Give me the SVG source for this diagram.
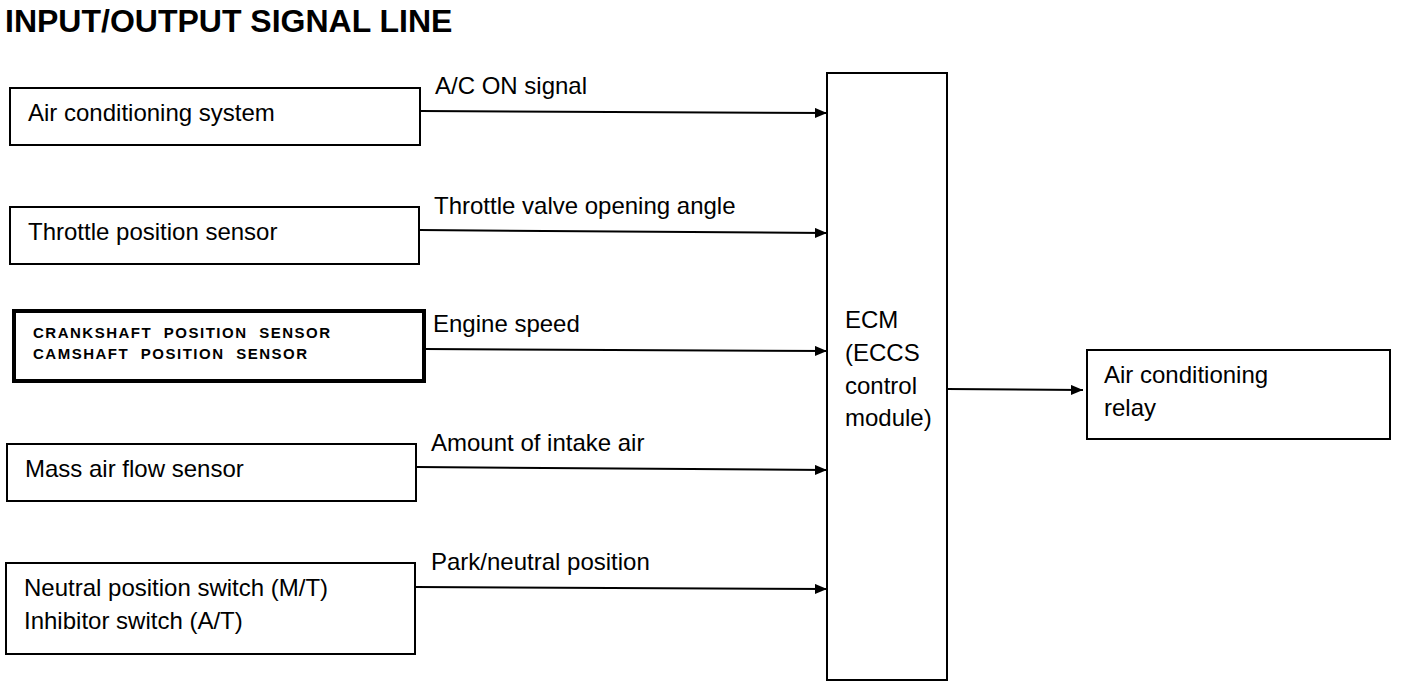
<svg xmlns="http://www.w3.org/2000/svg" width="1408" height="686" viewBox="0 0 1408 686">
<defs>
<marker id="ah" viewBox="0 0 12 10" refX="12" refY="5" markerWidth="12" markerHeight="10" markerUnits="userSpaceOnUse" orient="auto">
<path d="M0,0 L12,5 L0,10 Z" fill="#000"/>
</marker>
<style>
.box{fill:#fff;stroke:#000;stroke-width:2}
.thick{fill:#fff;stroke:#000;stroke-width:4}
.t{font-family:"Liberation Sans",Arial,sans-serif;font-size:24px;fill:#000}
.s{font-family:"Liberation Sans",Arial,sans-serif;font-size:15px;font-weight:bold;fill:#000;letter-spacing:1.5px;word-spacing:6px}
.c{stroke:#000;stroke-width:2;fill:none;marker-end:url(#ah)}
</style>
</defs>
<rect width="1408" height="686" fill="#fff"/>
<text x="5" y="32" font-family="'Liberation Sans',Arial,sans-serif" font-weight="bold" font-size="32">INPUT/OUTPUT SIGNAL LINE</text>

<g id="n-ac">
<rect class="box" x="10" y="88" width="410" height="57"/>
<text class="t" x="28" y="121">Air conditioning system</text>
</g>
<g id="n-tps">
<rect class="box" x="10" y="207" width="409" height="57"/>
<text class="t" x="28" y="240">Throttle position sensor</text>
</g>
<g id="n-crank">
<rect class="thick" x="14" y="311" width="410" height="70"/>
<text class="s" x="33" y="338">CRANKSHAFT POSITION SENSOR</text>
<text class="s" x="33" y="359">CAMSHAFT POSITION SENSOR</text>
</g>
<g id="n-maf">
<rect class="box" x="7" y="444" width="409" height="57"/>
<text class="t" x="25" y="477">Mass air flow sensor</text>
</g>
<g id="n-nps">
<rect class="box" x="6" y="563" width="409" height="91"/>
<text class="t" x="24" y="596">Neutral position switch (M/T)</text>
<text class="t" x="24" y="629">Inhibitor switch (A/T)</text>
</g>
<g id="n-ecm">
<rect class="box" x="827" y="73" width="120" height="607"/>
<text class="t" x="845" y="328">ECM</text>
<text class="t" x="845" y="361">(ECCS</text>
<text class="t" x="845" y="394">control</text>
<text class="t" x="845" y="426">module)</text>
</g>
<g id="n-relay">
<rect class="box" x="1087" y="350" width="303" height="89"/>
<text class="t" x="1104" y="383">Air conditioning</text>
<text class="t" x="1104" y="416">relay</text>
</g>

<g id="connectors">
<line class="c" x1="420" y1="111" x2="827" y2="113"/>
<line class="c" x1="419" y1="230" x2="827" y2="233"/>
<line class="c" x1="424" y1="349" x2="827" y2="351"/>
<line class="c" x1="416" y1="467" x2="827" y2="470"/>
<line class="c" x1="415" y1="587" x2="827" y2="589"/>
<line class="c" x1="947" y1="389" x2="1083" y2="390"/>
<text class="t" x="435" y="94">A/C ON signal</text>
<text class="t" x="434" y="214">Throttle valve opening angle</text>
<text class="t" x="433" y="332">Engine speed</text>
<text class="t" x="431" y="451">Amount of intake air</text>
<text class="t" x="431" y="570">Park/neutral position</text>
</g>
</svg>
